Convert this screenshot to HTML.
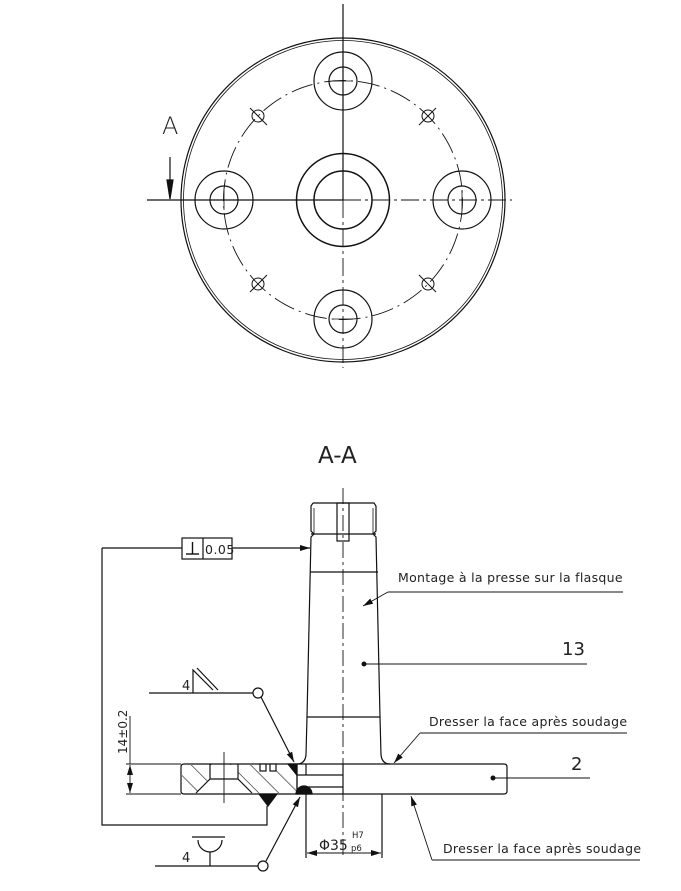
<!DOCTYPE html>
<html><head><meta charset="utf-8"><style>
html,body{margin:0;padding:0;background:#fff;}
svg{display:block;}
text{font-family:"DejaVu Sans","Liberation Sans",sans-serif;fill:#222;}
</style></head><body>
<svg width="681" height="891" viewBox="0 0 681 891" xmlns="http://www.w3.org/2000/svg">
<defs>
<pattern id="h" patternUnits="userSpaceOnUse" width="14" height="14" patternTransform="rotate(-45)">
<line x1="0" y1="0" x2="0" y2="14" stroke="#111" stroke-width="1.2"/>
</pattern>
<marker id="ar" markerWidth="10" markerHeight="6" refX="10" refY="3" orient="auto" markerUnits="userSpaceOnUse">
<path d="M0,0 L10,3 L0,6 z" fill="#111"/>
</marker>
</defs>
<g fill="none" stroke="#111" stroke-width="1.2">
<!-- TOP VIEW -->
<circle cx="343" cy="200" r="162"/>
<circle cx="343" cy="200" r="159.5" stroke-width="0.8"/>
<circle cx="343" cy="200" r="46.5" stroke-width="1.5"/>
<circle cx="343" cy="200" r="29" stroke-width="1.5"/>
<circle cx="343" cy="200" r="119.5" stroke-dasharray="22,5,2,5" stroke-width="0.9"/>
<circle cx="343" cy="81" r="29"/><circle cx="343" cy="81" r="14"/>
<circle cx="343" cy="319" r="29"/><circle cx="343" cy="319" r="14"/>
<circle cx="224" cy="200" r="29"/><circle cx="224" cy="200" r="14"/>
<circle cx="462" cy="200" r="29"/><circle cx="462" cy="200" r="14"/>
<g stroke-width="1">
<circle cx="258" cy="116" r="6"/><line x1="250" y1="108" x2="267" y2="125"/>
<circle cx="428" cy="116" r="6"/><line x1="436" y1="108" x2="419" y2="125"/>
<circle cx="258" cy="284" r="6"/><line x1="250" y1="292" x2="267" y2="275"/>
<circle cx="428" cy="284" r="6"/><line x1="436" y1="292" x2="419" y2="275"/>
</g>
<line x1="343" y1="4" x2="343" y2="200"/>
<line x1="343" y1="200" x2="343" y2="368" stroke-dasharray="18,4,3,4" stroke-width="0.9"/>
<line x1="147" y1="200" x2="343" y2="200"/>
<line x1="343" y1="200" x2="512" y2="200" stroke-dasharray="18,4,3,4" stroke-width="0.9"/>
<line x1="170" y1="157" x2="170" y2="185"/>
<path d="M167,180 L170,199 L173,180 z" fill="#111"/>
<line x1="224" y1="190" x2="224" y2="210" stroke-width="0.8"/>
<line x1="462" y1="190" x2="462" y2="210" stroke-width="0.8"/>
<line x1="333" y1="81" x2="353" y2="81" stroke-width="0.8"/>
<line x1="333" y1="319" x2="353" y2="319" stroke-width="0.8"/>

<!-- SECTION -->
<path d="M313,503 L374,503 L376,506 L376,531 L373,534 L376,537 L380,717 L381,755 Q382,764 390,764"/>
<path d="M313,503 L311,506 L311,531 L314,534 L311,537 L307,717 L306,755 Q305,764 297,764"/>
<line x1="314" y1="508" x2="314" y2="534" stroke-width="0.8"/>
<line x1="373" y1="508" x2="373" y2="534" stroke-width="0.8"/>
<line x1="311" y1="534" x2="376" y2="534"/>
<rect x="337" y="503" width="12" height="38"/>
<line x1="310" y1="572" x2="378" y2="572"/>
<line x1="307" y1="717" x2="380" y2="717"/>
<line x1="343" y1="488" x2="343" y2="858" stroke-dasharray="16,4,3,4" stroke-width="0.9"/>
<path d="M343,764 L504,764 Q507,764 507,767 L507,791 Q507,794 504,794 L343,794 z"/>
<line x1="297" y1="764" x2="343" y2="764"/>
<line x1="297" y1="775" x2="343" y2="775"/>
<line x1="306" y1="787" x2="343" y2="787"/>
<line x1="297" y1="794" x2="343" y2="794"/>
<line x1="297" y1="764" x2="297" y2="794"/>
<line x1="306" y1="764" x2="306" y2="775"/>
<line x1="306" y1="794" x2="306" y2="858"/>
<line x1="382" y1="794" x2="382" y2="858"/>
<path d="M184,764 L297,764 L297,794 L184,794 Q181,794 181,791 L181,767 Q181,764 184,764 z"/>
<path d="M182,765 L296,765 L296,793 L182,793 z M210,764 L210,779 L196,793 L252,793 L238,779 L238,764 z" fill="url(#h)" fill-rule="evenodd" stroke="none"/>
<path d="M210,764 L210,779 L196,793 M238,764 L238,779 L252,793 M210,779 L238,779"/>
<rect x="260" y="764" width="6" height="7" fill="#fff"/>
<rect x="270" y="764" width="6" height="7" fill="#fff"/>
<line x1="224" y1="752" x2="224" y2="803" stroke-width="0.9"/>
<path d="M288,764 L296,764 L296,774 z" fill="#111"/>
<path d="M296,794 A8,8 0 0 1 312,794 z" fill="#111"/>
<path d="M259,794 L277,794 L268,806 z" fill="#111"/>
<rect x="182" y="538" width="50" height="21" fill="#fff"/>
<line x1="203" y1="538" x2="203" y2="559"/>
<line x1="186" y1="554" x2="199" y2="554" stroke-width="1.4"/>
<line x1="192.5" y1="542" x2="192.5" y2="554" stroke-width="1.4"/>
<line x1="102" y1="548" x2="182" y2="548"/>
<line x1="232" y1="548" x2="310" y2="548" marker-end="url(#ar)"/>
<polyline points="102,548 102,825 267,825 267,806"/>
<line x1="149" y1="693" x2="253" y2="693"/>
<circle cx="258" cy="693" r="5"/>
<path d="M193,693 L193,670 L213,690"/><line x1="197" y1="668" x2="218" y2="690"/>
<line x1="261" y1="697" x2="294" y2="762" marker-end="url(#ar)"/>
<line x1="155" y1="866" x2="258" y2="866"/>
<circle cx="263" cy="866" r="5"/>
<line x1="192" y1="837" x2="225" y2="837"/>
<path d="M198,840 A12,12 0 0 0 222,840"/>
<line x1="210" y1="852" x2="210" y2="866"/>
<line x1="266" y1="861" x2="300" y2="797" marker-end="url(#ar)"/>
<line x1="126" y1="764" x2="181" y2="764" stroke-width="0.9"/>
<line x1="126" y1="794" x2="181" y2="794" stroke-width="0.9"/>
<line x1="130" y1="716" x2="130" y2="764" stroke-width="0.9"/>
<line x1="130" y1="775" x2="130" y2="765" marker-end="url(#ar)" stroke-width="0.9"/>
<line x1="130" y1="783" x2="130" y2="793" marker-end="url(#ar)" stroke-width="0.9"/>
<line x1="130" y1="775" x2="130" y2="783" stroke-width="0.9"/>
<line x1="330" y1="853" x2="307" y2="853" marker-end="url(#ar)" stroke-width="0.9"/>
<line x1="340" y1="853" x2="381" y2="853" marker-end="url(#ar)" stroke-width="0.9"/>
<line x1="320" y1="853" x2="345" y2="853" stroke-width="0.9"/>
<line x1="388" y1="592" x2="623" y2="592" stroke-width="0.9"/>
<line x1="388" y1="592" x2="363" y2="606" marker-end="url(#ar)" stroke-width="0.9"/>
<line x1="364" y1="664" x2="587" y2="664" stroke-width="0.9"/>
<line x1="420" y1="733" x2="627" y2="733" stroke-width="0.9"/>
<line x1="420" y1="733" x2="394" y2="763" marker-end="url(#ar)" stroke-width="0.9"/>
<line x1="493" y1="778" x2="590" y2="778" stroke-width="0.9"/>
<line x1="432" y1="860" x2="640" y2="860" stroke-width="0.9"/>
<line x1="432" y1="860" x2="411" y2="796" marker-end="url(#ar)" stroke-width="0.9"/>
</g>
<circle cx="364" cy="664" r="2.5" fill="#111"/>
<circle cx="493" cy="778" r="2.5" fill="#111"/>
<g>
<text x="162" y="134" font-size="24" font-weight="300">A</text>
<text x="318" y="463" font-size="23">A-A</text>
<text x="205" y="554" font-size="12.5" letter-spacing="0.5">0.05</text>
<text x="182" y="690" font-size="13">4</text>
<text x="182" y="862" font-size="13">4</text>
<text transform="translate(127,754) rotate(-90)" font-size="12">14±0.2</text>
<text x="319" y="850" font-size="14">Φ35</text>
<text x="352" y="838" font-size="8.5">H7</text>
<text x="351" y="851" font-size="8.5">p6</text>
<text x="398" y="582" font-size="12.5" letter-spacing="0.3">Montage à la presse sur la flasque</text>
<text x="562" y="655" font-size="18">13</text>
<text x="429" y="726" font-size="12.5" letter-spacing="0.3">Dresser la face après soudage</text>
<text x="571" y="770" font-size="18">2</text>
<text x="443" y="853" font-size="12.5" letter-spacing="0.3">Dresser la face après soudage</text>
</g>
</svg>
</body></html>
